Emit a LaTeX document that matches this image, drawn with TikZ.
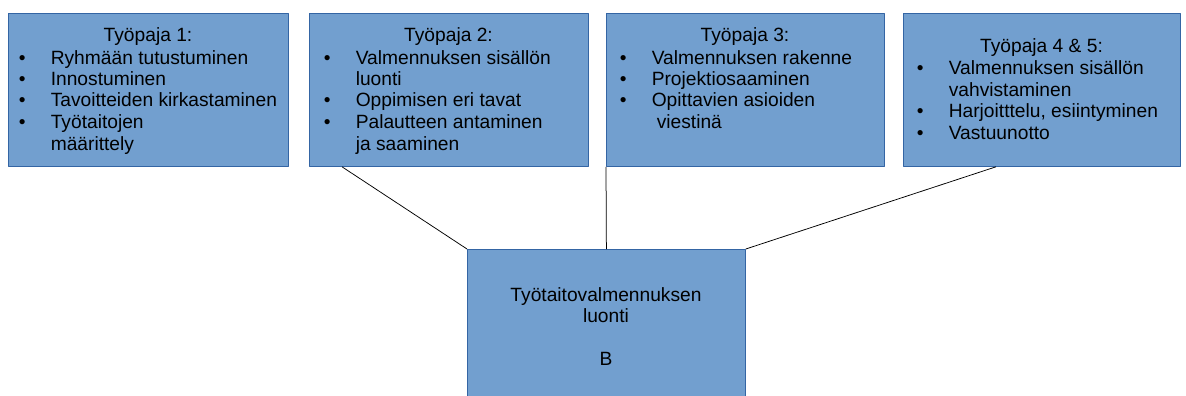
\documentclass[tikz,border=0pt]{standalone}
\usepackage{fontspec}
\setmainfont{Liberation Sans}
\definecolor{pajafill}{HTML}{729FCF}
\definecolor{pajaedge}{HTML}{3465A4}
\tikzset{
	paja/.style={draw=pajaedge, line width=0.8pt, fill=pajafill, anchor=north west, inner sep=0pt, minimum height=153pt},
	otsikko/.style={anchor=base, inner sep=0pt},
	lista/.style={anchor=base west, inner sep=0pt},
	yhteys/.style={line width=0.75pt}
}
% luettelo: luetelmaviiva + teksti
\newcommand{\kohdat}[1]{\begin{tabular}[t]{@{}p{32pt}@{}l@{}}#1\end{tabular}}
\begin{document}
\begin{tikzpicture}[x=1pt,y=-1pt, font=\fontsize{19.2pt}{21.5pt}\selectfont, line join=round]
	\useasboundingbox (0,0) rectangle (1186,396);
	% laatikot
	\node[paja, minimum width=280pt] (paja1) at (8,13) {};
	\node[paja, minimum width=279pt] (paja2) at (309,13) {};
	\node[paja, minimum width=278pt] (paja3) at (606,13) {};
	\node[paja, minimum width=277pt] (paja4) at (903,13) {};
	\node[paja, minimum width=278pt, minimum height=160pt] (luonti) at (467,249) {};
	% otsikot
	\node[otsikko] (otsikko1) at (148,42) {Työpaja 1:};
	\node[otsikko] (otsikko2) at (448.5,42) {Työpaja 2:};
	\node[otsikko] (otsikko3) at (745,42) {Työpaja 3:};
	\node[otsikko] (otsikko4) at (1041.5,52.5) {Työpaja 4 \& 5:};
	% luettelot
	\node[lista] (lista1) at (18.6,64) {\kohdat{%
		\textbullet & Ryhmään tutustuminen\\
		\textbullet & Innostuminen\\
		\textbullet & Tavoitteiden kirkastaminen\\
		\textbullet & Työtaitojen\\
		& määrittely}};
	\node[lista] (lista2) at (323.6,64) {\kohdat{%
		\textbullet & Valmennuksen sisällön\\
		& luonti\\
		\textbullet & Oppimisen eri tavat\\
		\textbullet & Palautteen antaminen\\
		& ja saaminen}};
	\node[lista] (lista3) at (619.6,64) {\kohdat{%
		\textbullet & Valmennuksen rakenne\\
		\textbullet & Projektiosaaminen\\
		\textbullet & Opittavien asioiden\\
		& \hspace{5pt}viestinä}};
	\node[lista] (lista4) at (916.6,74.5) {\kohdat{%
		\textbullet & Valmennuksen sisällön\\
		& vahvistaminen\\
		\textbullet & Harjoitttelu, esiintyminen\\
		\textbullet & Vastuunotto}};
	\node[otsikko] (luontiteksti) at (606,301) {\begin{tabular}[t]{@{}c@{}}Työtaitovalmennuksen\\ luonti\\ \\ B\end{tabular}};
	% yhteydet
	\draw[yhteys] ([xshift=33pt]paja2.south west) -- (luonti.north west);
	\draw[yhteys] (paja3.south west) -- (luonti.north);
	\draw[yhteys] ([xshift=93pt]paja4.south west) -- (luonti.north east);
\end{tikzpicture}
\end{document}
